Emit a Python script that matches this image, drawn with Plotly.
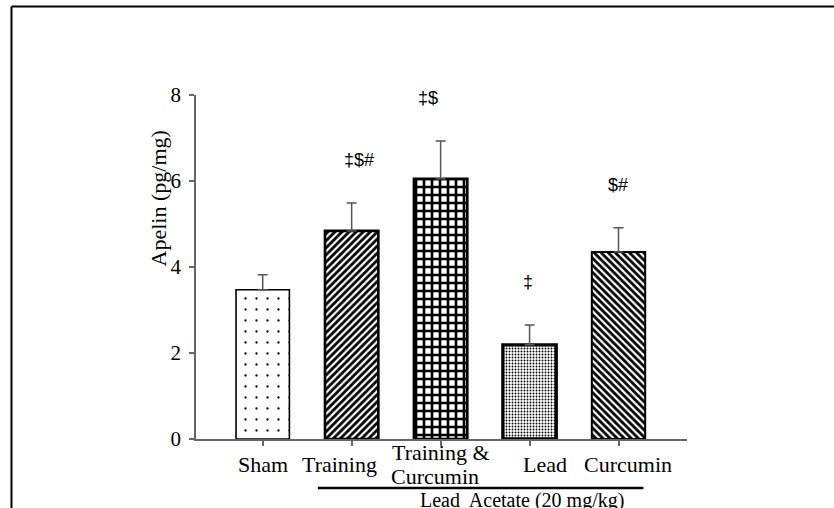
import plotly.graph_objects as go

categories = ["Sham", "Training", "Training &<br>Curcumin", "Lead", "Curcumin"]
apelin_mean = [3.47, 4.84, 6.05, 2.19, 4.35]
apelin_err = [0.35, 0.65, 0.88, 0.46, 0.56]
sig_labels = ["", "\u2021$#", "\u2021$", "\u2021", "$#"]
y_ticks = [0, 2, 4, 6, 8]
group_label = "Lead\u00a0 Acetate (20 mg/kg)"

# styling
pat_shapes = [".", "/", "+", ".", "\\"]
pat_sizes = [11, 5, 8, 3, 5]
pat_solid = [0.035, 0.55, 0.55, 0.3, 0.55]
outline_w = [1.6, 2.6, 2.6, 3.3, 2.0]
label_xshift = [0, -12, 0, 15, 9]
line2_xshift = -6
sig_xshift = [0, 7, -13, -2, -1]

serif = "Liberation Serif, Times New Roman, serif"
sans = "Liberation Sans, Arial, sans-serif"
axis_col = "#666666"

xs = list(range(len(categories)))

fig = go.Figure()
fig.add_trace(go.Bar(
    x=xs, y=apelin_mean, width=0.6,
    marker=dict(
        color="white",
        line=dict(color="black", width=outline_w),
        pattern=dict(shape=pat_shapes, size=pat_sizes, solidity=pat_solid,
                     fgcolor="black", bgcolor="white", fgopacity=1),
    ),
    error_y=dict(type="data", array=apelin_err, arrayminus=[0] * len(xs),
                 symmetric=False, color="#555555", thickness=1.5, width=5),
    showlegend=False, hoverinfo="skip",
))

ann = []
for i, lab in enumerate(categories):
    parts = lab.split("<br>")
    if len(parts) == 1:
        ann.append(dict(x=i, y=0, xref="x", yref="paper", text=parts[0],
                        showarrow=False, yanchor="middle", yshift=-25,
                        xshift=label_xshift[i],
                        font=dict(family=serif, size=22, color="black")))
    else:
        ann.append(dict(x=i, y=0, xref="x", yref="paper", text=parts[0],
                        showarrow=False, yanchor="middle", yshift=-13,
                        xshift=label_xshift[i],
                        font=dict(family=serif, size=22, color="black")))
        ann.append(dict(x=i, y=0, xref="x", yref="paper", text=parts[1],
                        showarrow=False, yanchor="middle", yshift=-37,
                        xshift=line2_xshift,
                        font=dict(family=serif, size=22, color="black")))

for i, s in enumerate(sig_labels):
    if s:
        ann.append(dict(x=i, y=apelin_mean[i] + apelin_err[i], xref="x", yref="y",
                        text=s, showarrow=False, yanchor="middle", yshift=43,
                        xshift=sig_xshift[i],
                        font=dict(family=sans, size=18, color="black")))

ann.append(dict(x=2.92, y=-0.18, xref="x", yref="paper", text=group_label,
                showarrow=False, yanchor="middle",
                font=dict(family=serif, size=20, color="black")))

ann.append(dict(x=-0.077, y=0.70, xref="paper", yref="paper", text="Apelin (pg/mg)",
                showarrow=False, textangle=-90, xanchor="center", yanchor="middle",
                font=dict(family=serif, size=22, color="black")))

shapes = [
    dict(type="line", xref="x", yref="paper", x0=0.62, x1=4.28, y0=-0.1424, y1=-0.1424,
         line=dict(color="black", width=2.5)),
    dict(type="line", xref="paper", yref="paper", x0=-0.3758, x1=1.35, y0=1.2572, y1=1.2572,
         line=dict(color="black", width=2)),
    dict(type="line", xref="paper", yref="paper", x0=-0.3758, x1=-0.3758, y0=1.2572, y1=-0.3,
         line=dict(color="black", width=2)),
]

fig.update_layout(
    width=834, height=508,
    margin=dict(l=196, r=147, t=95, b=69),
    paper_bgcolor="white", plot_bgcolor="white",
    annotations=ann, shapes=shapes,
    bargap=0.4,
)
fig.update_xaxes(range=[-0.75, 4.77], tickvals=xs, showticklabels=False,
                 showline=True, linecolor=axis_col, linewidth=1.5,
                 ticks="outside", ticklen=5, tickcolor=axis_col, tickwidth=1.5,
                 showgrid=False, zeroline=False, fixedrange=True)
fig.update_yaxes(range=[0, 8], tickvals=y_ticks, ticktext=[str(t) for t in y_ticks],
                 showline=True, linecolor=axis_col, linewidth=1.5,
                 ticks="outside", ticklen=5, tickcolor=axis_col, tickwidth=1.5,
                 tickfont=dict(family=serif, size=21, color="black"),
                 ticklabelstandoff=4,
                 showgrid=False, zeroline=False, fixedrange=True)

fig.write_html("out.html")
